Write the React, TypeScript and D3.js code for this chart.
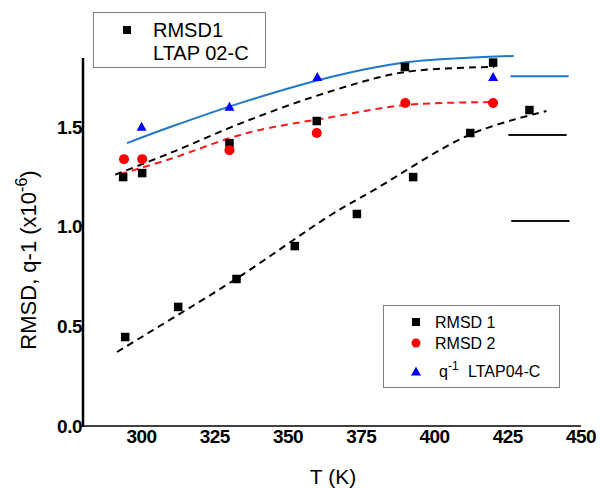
import React from 'react';
import * as d3 from 'd3';

// ---- data ----
const xTicks = [300, 325, 350, 375, 400, 425, 450];
const yTicks = [0, 0.5, 1.0, 1.5];

// RMSD 1 (LTAP04-C) lower series
const rmsd1LowT = [294.4, 312.5, 332.4, 352.3, 373.5, 392.7, 412.2, 432.4];
const rmsd1LowV = [0.446, 0.597, 0.737, 0.902, 1.063, 1.248, 1.469, 1.584];
// RMSD1 LTAP 02-C upper series
const rmsd1HighT = [293.7, 300.2, 330, 359.8, 389.9, 420];
const rmsd1HighV = [1.248, 1.268, 1.418, 1.529, 1.8, 1.822];
// RMSD 2
const rmsd2T = [294, 300.2, 330, 359.8, 390, 420];
const rmsd2V = [1.338, 1.338, 1.383, 1.469, 1.619, 1.619];
// q^-1 LTAP04-C
const qInvT = [300, 330, 360, 420];
const qInvV = [1.5, 1.6, 1.75, 1.75];

// fitted curves
const fitBlueT = [295, 310, 336, 364.6, 388.6, 410, 427];
const fitBlueV = [1.418, 1.5, 1.63, 1.75, 1.82, 1.845, 1.855];
const fitHighT = [291, 310, 336, 365, 390, 420.4];
const fitHighV = [1.26, 1.37, 1.53, 1.68, 1.775, 1.8];
const fitRedT = [292.7, 310, 336, 365, 390, 420];
const fitRedV = [1.263, 1.34, 1.469, 1.549, 1.609, 1.624];
const fitLowT = [291.6, 300, 332.7, 364.6, 379.3, 412.5, 438.2];
const fitLowV = [0.371, 0.446, 0.742, 1.058, 1.183, 1.464, 1.579];

// horizontal reference levels on the right
const refLevels = [1.754, 1.459, 1.028];
const refStartT = [425.9, 425.2, 426.2];
const refEndT = [445.8, 445.1, 446.1];
const refColors = ['#1f77c9', '#111', '#111'];

const FONT = 'Liberation Sans, Arial, Helvetica, sans-serif';

export default function App() {
  const x = d3.scaleLinear().domain([280, 450]).range([83, 581]);
  const y = d3.scaleLinear().domain([0, 1.845]).range([426, 58]);

  const line = d3
    .line<[number, number]>()
    .x((d) => x(d[0]))
    .y((d) => y(d[1]))
    .curve(d3.curveCatmullRom.alpha(0.5));

  const zip = (a: number[], b: number[]) => a.map((t, i) => [t, b[i]] as [number, number]);

  const sq = 8.5;
  const tri = (cx: number, cy: number, w = 10, h = 9) =>
    `M${cx},${cy - h / 2 - 0.5}L${cx + w / 2},${cy + h / 2 - 0.5}L${cx - w / 2},${cy + h / 2 - 0.5}Z`;

  return (
    <svg width={600} height={488} style={{ position: 'absolute', left: 0, top: 0, background: '#fff' }} fontFamily={FONT}>
      <rect x={0} y={0} width={600} height={488} fill="#fff" />

      {/* axes */}
      <line x1={83} x2={83} y1={y(1.845)} y2={y(0) + 1} stroke="#000" strokeWidth={2.5} />
      <line x1={82} x2={581} y1={y(0)} y2={y(0)} stroke="#000" strokeWidth={1.5} />

      {yTicks.map((t) => (
        <text key={t} x={82} y={y(t)} dy="0.36em" textAnchor="end" fontSize={19} fontWeight="bold" letterSpacing={-0.5}>
          {t.toFixed(1)}
        </text>
      ))}
      {xTicks.map((t) => (
        <text key={t} x={x(t)} y={443} textAnchor="middle" fontSize={19} fontWeight="bold" letterSpacing={-0.5}>
          {t}
        </text>
      ))}

      <text x={333} y={484} textAnchor="middle" fontSize={21}>
        T (K)
      </text>
      <text transform="translate(36,260) rotate(-90)" textAnchor="middle" fontSize={22}>
        RMSD, q-1 (x10
        <tspan dy={-9} fontSize={16}>-6</tspan>
        <tspan dy={9}>)</tspan>
      </text>

      {/* fits */}
      <path d={line(zip(fitLowT, fitLowV)) || ''} fill="none" stroke="#000" strokeWidth={2} strokeDasharray="7,5" />
      <path d={line(zip(fitHighT, fitHighV)) || ''} fill="none" stroke="#000" strokeWidth={2} strokeDasharray="7,5" />
      <path d={line(zip(fitRedT, fitRedV)) || ''} fill="none" stroke="#ff1a1a" strokeWidth={2} strokeDasharray="7,5" />
      <path d={line(zip(fitBlueT, fitBlueV)) || ''} fill="none" stroke="#1f77c9" strokeWidth={2} />

      {/* reference levels */}
      {refLevels.map((v, i) => (
        <line key={i} x1={x(refStartT[i])} x2={x(refEndT[i])} y1={y(v)} y2={y(v)} stroke={refColors[i]} strokeWidth={2} />
      ))}

      {/* markers */}
      {rmsd1LowT.map((t, i) => (
        <rect key={'l' + i} x={x(t) - sq / 2} y={y(rmsd1LowV[i]) - sq / 2} width={sq} height={sq} fill="#000" />
      ))}
      {rmsd1HighT.map((t, i) => (
        <rect key={'h' + i} x={x(t) - sq / 2} y={y(rmsd1HighV[i]) - sq / 2} width={sq} height={sq} fill="#000" />
      ))}
      {rmsd2T.map((t, i) => (
        <circle key={'r' + i} cx={x(t)} cy={y(rmsd2V[i])} r={5} fill="#ff0000" />
      ))}
      {qInvT.map((t, i) => (
        <path key={'q' + i} d={tri(x(t), y(qInvV[i]))} fill="#0000ff" />
      ))}

      {/* legend 1 */}
      <rect x={93.5} y={12.5} width={172} height={55} fill="#fff" stroke="#808080" strokeWidth={1} />
      <rect x={127 - 4} y={30 - 4} width={8} height={8} fill="#000" />
      <text x={153} y={37} fontSize={20}>RMSD1</text>
      <text x={153} y={60} fontSize={20}>LTAP 02-C</text>

      {/* legend 2 */}
      <rect x={383.5} y={305.5} width={176} height={82} fill="#fff" stroke="#808080" strokeWidth={1} />
      <rect x={416 - 4} y={322 - 4} width={8} height={8} fill="#000" />
      <text x={435} y={327.5} fontSize={16}>RMSD 1</text>
      <circle cx={416} cy={343} r={4.5} fill="#ff0000" />
      <text x={435} y={348.5} fontSize={16}>RMSD 2</text>
      <path d={tri(416, 371.5, 10, 9)} fill="#0000ff" />
      <text x={439} y={377} fontSize={16}>
        q
        <tspan dy={-7} fontSize={12}>-1</tspan>
        <tspan x={468} dy={7}>LTAP04-C</tspan>
      </text>
    </svg>
  );
}
